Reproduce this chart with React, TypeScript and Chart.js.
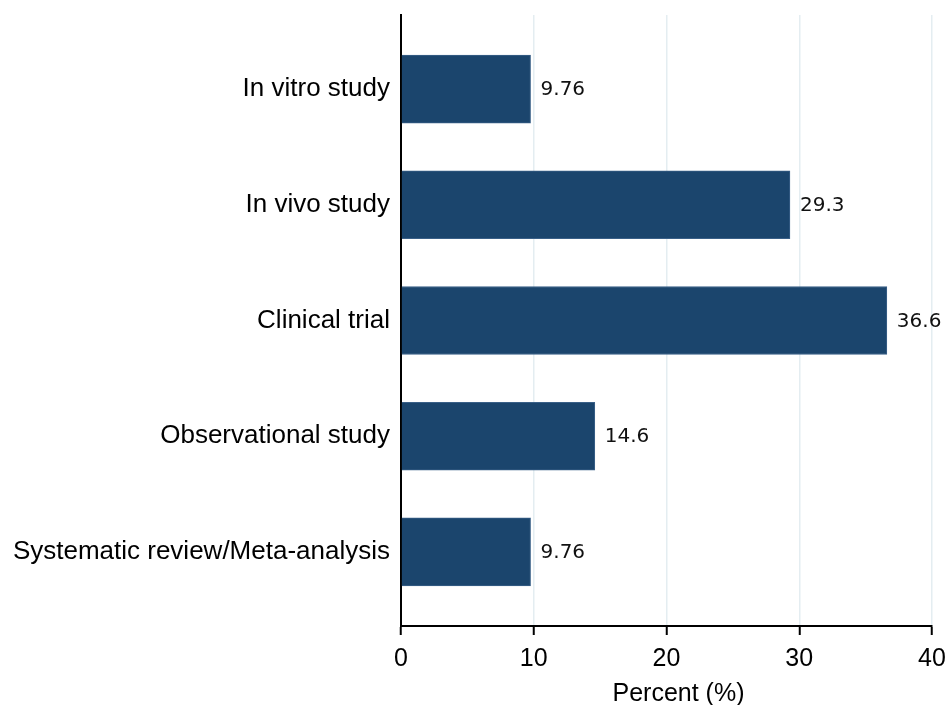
import React, { useEffect, useRef } from "react";
import { Chart, registerables } from "chart.js";

Chart.register(...registerables);

const categories = [
  "In vitro study",
  "In vivo study",
  "Clinical trial",
  "Observational study",
  "Systematic review/Meta-analysis",
];
const percents = [9.76, 29.3, 36.6, 14.6, 9.76];
const valueLabels = ["9.76", "29.3", "36.6", "14.6", "9.76"];
const xTicks = [0, 10, 20, 30, 40];
const xTitle = "Percent (%)";

const valueLabelPlugin = {
  id: "valueLabels",
  afterDatasetsDraw(chart: any) {
    const ctx = chart.ctx;
    const meta = chart.getDatasetMeta(0);
    ctx.save();
    ctx.font = "20px 'DejaVu Sans'";
    ctx.fillStyle = "#111";
    ctx.textAlign = "left";
    ctx.textBaseline = "middle";
    meta.data.forEach((bar: any, i: number) => {
      ctx.fillText(valueLabels[i], bar.x + 10, bar.y + 1);
    });
    ctx.restore();
  },
  afterDraw(chart: any) {
    const ctx = chart.ctx;
    const area = chart.chartArea;
    ctx.save();
    ctx.font = "25px 'Liberation Sans'";
    ctx.fillStyle = "#000";
    ctx.textAlign = "center";
    ctx.textBaseline = "middle";
    ctx.fillText(xTitle, (area.left + area.right) / 2 + 12, chart.height - 11);
    ctx.restore();
  },
};

export default function App() {
  const ref = useRef<HTMLCanvasElement>(null);
  useEffect(() => {
    if (!ref.current) return;
    const chart = new Chart(ref.current, {
      type: "bar",
      data: {
        datasets: [
          {
            data: percents.map((v, i) => ({ x: v, y: i })),
            backgroundColor: "#1b456d",
            borderColor: "#3a6088",
            borderWidth: 1,
            barThickness: 68,
          },
        ],
      },
      options: {
        indexAxis: "y",
        animation: false,
        responsive: true,
        maintainAspectRatio: false,
        layout: { padding: { top: 15, right: 16, left: 0, bottom: 0 } },
        plugins: {
          legend: { display: false },
          tooltip: { enabled: false },
        },
        scales: {
          y: {
            type: "linear",
            reverse: true,
            offset: false,
            min: -0.64,
            max: 4.64,
            afterBuildTicks: (scale: any) => {
              scale.ticks = categories.map((_, i) => ({ value: i }));
            },
            afterFit: (scale: any) => {
              scale.width = 401;
              scale.paddingTop = 0;
              scale.paddingBottom = 0;
            },
            grid: { display: false },
            border: { display: true, color: "#000", width: 2 },
            ticks: {
              color: "#000",
              padding: 3,
              font: { family: "'Liberation Sans'", size: 26 },
              callback: (v: any) => categories[v as number] ?? "",
            },
          },
          x: {
            type: "linear",
            min: 0,
            max: 40,
            afterBuildTicks: (scale: any) => {
              scale.ticks = xTicks.map((v) => ({ value: v }));
            },
            afterFit: (scale: any) => {
              scale.height = 79;
              scale.paddingLeft = 0;
              scale.paddingRight = 0;
            },
            grid: {
              color: "#e4edf1",
              lineWidth: 1.5,
              tickColor: "#000",
              tickWidth: 2,
              tickLength: 9,
            },
            border: { display: true, color: "#000", width: 2 },
            ticks: {
              color: "#000",
              padding: 9,
              font: { family: "'Liberation Sans'", size: 25 },
            },
          },
        },
      },
      plugins: [valueLabelPlugin],
    });
    return () => chart.destroy();
  }, []);
  return (
    <div style={{ position: "fixed", left: 0, top: 0, width: 948, height: 705, background: "#fff" }}>
      <canvas ref={ref} />
    </div>
  );
}
